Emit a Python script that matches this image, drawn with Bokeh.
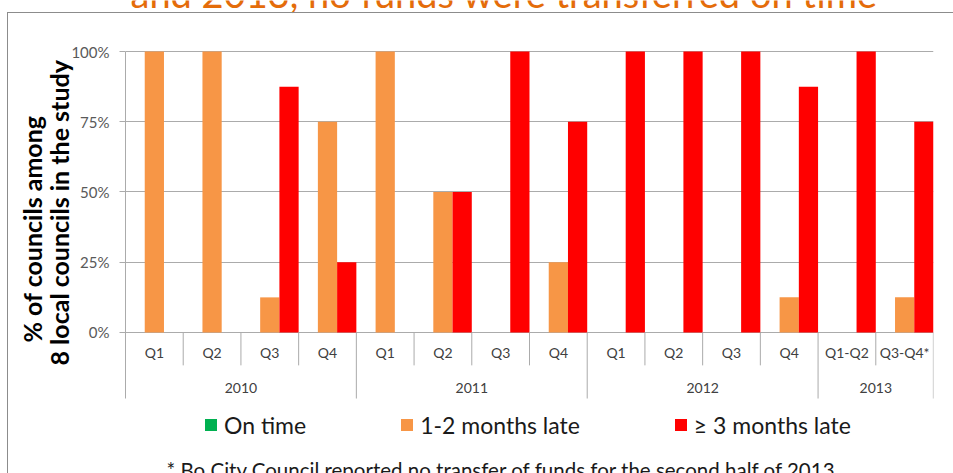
from bokeh.plotting import figure
from bokeh.models import (FactorRange, Range1d, FixedTicker, ColumnDataSource,
                          Legend, LegendItem, Label, Title)
from bokeh.transform import dodge
from bokeh.core.properties import value
from bokeh.embed import file_html
from bokeh.resources import INLINE

# ---------------- data ----------------
years = ["2010", "2010", "2010", "2010",
         "2011", "2011", "2011", "2011",
         "2012", "2012", "2012", "2012",
         "2013", "2013"]
quarters = ["Q1", "Q2", "Q3", "Q4",
            "Q1", "Q2", "Q3", "Q4",
            "Q1", "Q2", "Q3", "Q4",
            "Q1-Q2", "Q3-Q4*"]
on_time = [0, 0, 0, 0, 0, 0, 0, 0, 0, 0, 0, 0, 0, 0]
late_1_2 = [100, 100, 12.5, 75, 100, 50, 0, 25, 0, 0, 0, 12.5, 0, 12.5]
late_3plus = [0, 0, 87.5, 25, 0, 50, 100, 75, 100, 100, 100, 87.5, 100, 75]
series_names = ["On time", "1-2 months late", "\u2265 3 months late"]
series_colors = ["#00B050", "#F79646", "#FF0000"]
y_ticks = [0, 25, 50, 75, 100]
y_tick_labels = ["0%", "25%", "50%", "75%", "100%"]
y_label_lines = ["% of councils  among", "8 local councils in the study"]
title_text = "and 2013, no funds were transferred on time"
footnote_text = "* Bo City Council reported no transfer of funds for the second half of 2013"

FONT = "Lato"
GRAY = "#ABABAB"

factors = list(zip(years, quarters))
source = ColumnDataSource(data=dict(x=factors, on_time=on_time,
                                    late_1_2=late_1_2, late_3plus=late_3plus))

x_range = FactorRange(*factors, range_padding=0, group_padding=0,
                      factor_padding=0, subgroup_padding=0)

W, H = 953, 473
border_css = (":host::after { content: ''; position: absolute; left: 7px; top: 12px; "
              "right: 0px; bottom: 0px; border-left: 1.5px solid #8C8C8C; "
              "border-top: 1.5px solid #8C8C8C; pointer-events: none; z-index: 10; }")
p = figure(width=W, height=H, x_range=x_range, y_range=Range1d(-50.18, 118.15),
           output_backend="svg", toolbar_location=None, x_axis_location=None,
           title=None, min_border_left=125, min_border_right=20, min_border_top=0,
           min_border_bottom=0, outline_line_color=None,
           stylesheets=[border_css])
p.background_fill_color = "white"
p.border_fill_color = "white"

# y axis
ax = p.yaxis[0]
ax.bounds = (-23.5, 100)
ax.ticker = FixedTicker(ticks=y_ticks)
ax.major_label_overrides = dict(zip(y_ticks, y_tick_labels))
ax.major_label_text_font = FONT
ax.major_label_text_font_size = "15px"
ax.major_label_text_color = "#595959"
ax.major_label_standoff = 10
ax.major_tick_out = 6
ax.major_tick_in = 0
ax.minor_tick_out = 0
ax.minor_tick_in = 0
ax.axis_line_color = GRAY
ax.major_tick_line_color = GRAY

# y axis title, two lines (nearest the axis first)
for line, off, stand in zip(reversed(y_label_lines), [108, 131], [-10, 0]):
    p.add_layout(Title(text=line, align="left", offset=off, standoff=stand,
                       text_font=FONT, text_font_style="bold", text_font_size="25px",
                       text_color="black", text_line_height=1.0), "left")

p.ygrid.ticker = FixedTicker(ticks=y_ticks)
p.ygrid.grid_line_color = GRAY
p.xgrid.grid_line_color = None

# bars
bw = 1 / 3
cols = ["on_time", "late_1_2", "late_3plus"]
offsets = [-bw, 0, bw]
renderers = []
for col, off, color in zip(cols, offsets, series_colors):
    r = p.vbar(x=dodge("x", off, range=x_range), top=col, bottom=0, width=bw,
               source=source, fill_color=color, line_color=None)
    renderers.append(r)

# category axis: separators and labels (multi-level)
sep_q_x, sep_y_x = [], []
for i, f in enumerate(factors):
    last_in_year = (i == len(factors) - 1) or (years[i + 1] != years[i])
    edge = (f[0], f[1], 0.5 if i < len(factors) - 1 else 0.498)
    if last_in_year:
        sep_y_x.append(edge)
    else:
        sep_q_x.append(edge)
p.segment(x0=sep_q_x, x1=sep_q_x, y0=[0] * len(sep_q_x), y1=[-11.7] * len(sep_q_x),
          line_color=GRAY, line_width=1)
p.segment(x0=sep_y_x, x1=sep_y_x, y0=[0] * len(sep_y_x), y1=[-23.5] * len(sep_y_x),
          line_color=GRAY, line_width=1)

p.text(x=factors, y=[-7.1] * len(factors), text=quarters, text_align="center",
       text_baseline="middle", text_font=value(FONT), text_font_size="14px",
       text_color="#404040")
year_groups = list(dict.fromkeys(years))
p.text(x=year_groups, y=[-19.6] * len(year_groups), text=year_groups,
       text_align="center", text_baseline="middle", text_font=value(FONT),
       text_font_size="14px", text_color="#404040")

# legend
legend = Legend(items=[LegendItem(label=n, renderers=[r]) for n, r in zip(series_names, renderers)],
                orientation="horizontal", location=(78, 34.5), padding=0, margin=0,
                spacing=93, glyph_width=15, glyph_height=15, label_standoff=6,
                border_line_color=None, background_fill_alpha=0,
                label_text_font=FONT, label_text_font_size="23px",
                label_text_color="#1A1A1A")
p.add_layout(legend)

# title fragment (cut at top) and footnote (cut at bottom)
p.add_layout(Label(x=5, y=481, x_units="screen", y_units="screen", text=title_text,
                   text_font=FONT, text_font_size="38px", text_color="#E46C0A",
                   text_baseline="alphabetic"))
p.add_layout(Label(x=41, y=4, x_units="screen", y_units="screen", text=footnote_text,
                   text_font=FONT, text_font_size="20.5px", text_color="#1A1A1A",
                   text_baseline="alphabetic"))

open("out.html", "w").write(file_html(p, INLINE))
